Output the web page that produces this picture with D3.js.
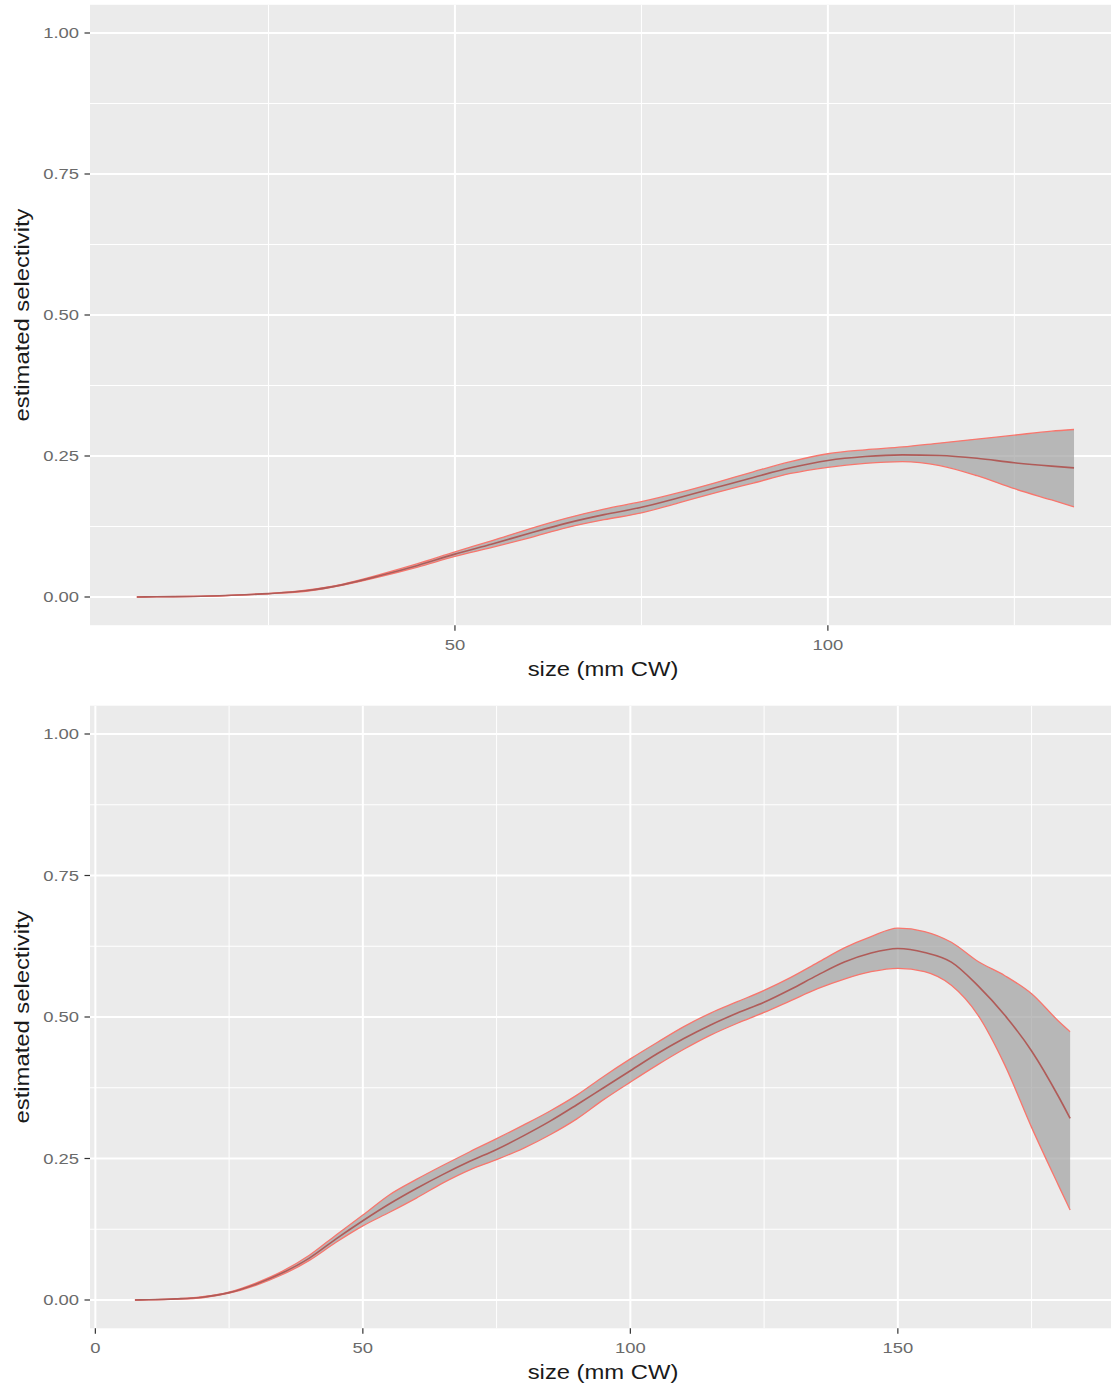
<!DOCTYPE html>
<html>
<head>
<meta charset="utf-8">
<script src="https://cdn.jsdelivr.net/npm/d3@7"></script>
<style>
  html, body { margin: 0; padding: 0; background: #ffffff; }
  svg { display: block; }
  text { font-family: "Liberation Sans", Arial, Helvetica, sans-serif; }
</style>
</head>
<body>
<div id="chart"></div>
<script>
// ---- Panel 1: estimated selectivity by size (mm CW) ----
const topSize  = [7.35, 10, 15, 20, 25, 30, 35, 40, 45, 50, 55, 60, 65, 70, 75, 80, 85, 90, 95, 100, 105, 110, 115, 120, 125, 130, 133];
const topFit   = [0, 0.0005, 0.001, 0.003, 0.006, 0.011, 0.022, 0.038, 0.056, 0.076, 0.094, 0.113, 0.131, 0.146, 0.159, 0.176, 0.194, 0.212, 0.229, 0.242, 0.249, 0.252, 0.251, 0.246, 0.238, 0.232, 0.229];
const topUpper = [0, 0.0005, 0.001, 0.003, 0.006, 0.012, 0.023, 0.040, 0.059, 0.080, 0.100, 0.121, 0.140, 0.156, 0.169, 0.185, 0.203, 0.222, 0.240, 0.254, 0.261, 0.266, 0.273, 0.280, 0.287, 0.294, 0.297];
const topLower = [0, 0.0005, 0.001, 0.003, 0.006, 0.010, 0.021, 0.036, 0.053, 0.072, 0.088, 0.105, 0.123, 0.137, 0.149, 0.167, 0.185, 0.202, 0.219, 0.230, 0.237, 0.240, 0.233, 0.215, 0.192, 0.172, 0.160];

// ---- Panel 2: estimated selectivity by size (mm CW) ----
const botSize  = [7.4, 10, 15, 20, 25, 30, 35, 40, 45, 50, 55, 60, 65, 70, 75, 80, 85, 90, 95, 100, 105, 110, 115, 120, 125, 130, 135, 140, 145, 150, 155, 160, 165, 170, 175, 180, 182.2];
const botFit   = [0, 0.0005, 0.002, 0.005, 0.013, 0.028, 0.048, 0.074, 0.108, 0.140, 0.170, 0.197, 0.222, 0.245, 0.266, 0.290, 0.316, 0.345, 0.375, 0.405, 0.435, 0.462, 0.486, 0.507, 0.526, 0.549, 0.574, 0.597, 0.613, 0.621, 0.614, 0.597, 0.555, 0.503, 0.440, 0.360, 0.321];
const botUpper = [0, 0.0005, 0.002, 0.006, 0.014, 0.030, 0.051, 0.079, 0.115, 0.150, 0.186, 0.213, 0.238, 0.262, 0.285, 0.309, 0.334, 0.362, 0.395, 0.426, 0.455, 0.483, 0.507, 0.527, 0.547, 0.570, 0.596, 0.622, 0.642, 0.657, 0.651, 0.632, 0.598, 0.573, 0.541, 0.493, 0.474];
const botLower = [0, 0.0005, 0.0015, 0.004, 0.012, 0.026, 0.045, 0.070, 0.102, 0.131, 0.155, 0.180, 0.207, 0.230, 0.248, 0.268, 0.292, 0.320, 0.354, 0.385, 0.415, 0.443, 0.468, 0.489, 0.508, 0.529, 0.550, 0.567, 0.580, 0.586, 0.580, 0.556, 0.503, 0.415, 0.305, 0.203, 0.159];

// ---- Axis breaks and labels ----
const yMajorTicks = [0, 0.25, 0.5, 0.75, 1];
const yMinorTicks = [0.125, 0.375, 0.625, 0.875];
const topXMajor = [50, 100];
const topXMinor = [25, 75, 125];
const botXMajor = [0, 50, 100, 150];
const botXMinor = [25, 75, 125, 175];
const xTitle = "size (mm CW)";
const yTitle = "estimated selectivity";

const W = 1111, H = 1389;
const TEXT_STRETCH = 1.19;   // wide lettering along the baseline

const svg = d3.select("#chart").append("svg")
  .attr("width", W).attr("height", H)
  .attr("viewBox", `0 0 ${W} ${H}`);

const panels = [
  { id: "p1", size: topSize, fit: topFit, upper: topUpper, lower: topLower,
    xDomain: [1.07, 139.3], xRange: [90, 1121], yRange: [625.2, 4.8],
    xMajor: topXMajor, xMinor: topXMinor },
  { id: "p2", size: botSize, fit: botFit, upper: botUpper, lower: botLower,
    xDomain: [-1.0, 191.0], xRange: [90, 1117.2], yRange: [1328.3, 705.7],
    xMajor: botXMajor, xMinor: botXMinor }
];

function stretchedText(g, x, y, rotate, str) {
  const t = `translate(${x},${y})` + (rotate ? ` rotate(${rotate})` : "") + ` scale(${TEXT_STRETCH},1)`;
  return g.append("text").attr("transform", t).text(str);
}

panels.forEach(p => {
  const x = d3.scaleLinear().domain(p.xDomain).range(p.xRange);
  const y = d3.scaleLinear().domain([-0.05, 1.05]).range(p.yRange);
  const [x0, x1] = p.xRange;
  const [yb, yt] = p.yRange;

  const g = svg.append("g");

  // panel background
  g.append("rect").attr("x", x0).attr("y", yt)
    .attr("width", x1 - x0).attr("height", yb - yt)
    .attr("fill", "#EBEBEB");

  g.append("clipPath").attr("id", "clip-" + p.id)
    .append("rect").attr("x", x0).attr("y", yt)
    .attr("width", x1 - x0).attr("height", yb - yt);

  const grid = g.append("g").attr("clip-path", `url(#clip-${p.id})`);

  // minor grid
  grid.selectAll(".ymin").data(yMinorTicks).join("line")
    .attr("x1", x0).attr("x2", x1)
    .attr("y1", d => y(d)).attr("y2", d => y(d))
    .attr("stroke", "#ffffff").attr("stroke-width", 1);
  grid.selectAll(".xmin").data(p.xMinor).join("line")
    .attr("x1", d => x(d)).attr("x2", d => x(d))
    .attr("y1", yt).attr("y2", yb)
    .attr("stroke", "#ffffff").attr("stroke-width", 1);
  // major grid
  grid.selectAll(".ymaj").data(yMajorTicks).join("line")
    .attr("x1", x0).attr("x2", x1)
    .attr("y1", d => y(d)).attr("y2", d => y(d))
    .attr("stroke", "#ffffff").attr("stroke-width", 2);
  grid.selectAll(".xmaj").data(p.xMajor).join("line")
    .attr("x1", d => x(d)).attr("x2", d => x(d))
    .attr("y1", yt).attr("y2", yb)
    .attr("stroke", "#ffffff").attr("stroke-width", 2);

  // confidence ribbon and fitted curve
  const rows = p.size.map((s, i) => ({ s, fit: p.fit[i], lo: p.lower[i], hi: p.upper[i] }));
  const curve = d3.curveMonotoneX;

  const area = d3.area().curve(curve)
    .x(d => x(d.s)).y0(d => y(d.lo)).y1(d => y(d.hi));
  const lineOf = key => d3.line().curve(curve).x(d => x(d.s)).y(d => y(d[key]));

  const marks = g.append("g").attr("clip-path", `url(#clip-${p.id})`);
  marks.append("path").datum(rows).attr("d", area)
    .attr("fill", "#9d9d9d").attr("fill-opacity", 0.68).attr("stroke", "none");
  ["hi", "lo"].forEach(k => {
    marks.append("path").datum(rows).attr("d", lineOf(k))
      .attr("fill", "none").attr("stroke", "#F8766D").attr("stroke-width", 1.3);
  });
  marks.append("path").datum(rows).attr("d", lineOf("fit"))
    .attr("fill", "none").attr("stroke", "#B05B58").attr("stroke-width", 1.6);

  // y axis
  const ya = g.append("g");
  ya.selectAll("line").data(yMajorTicks).join("line")
    .attr("x1", x0 - 5.5).attr("x2", x0)
    .attr("y1", d => y(d)).attr("y2", d => y(d))
    .attr("stroke", "#333333").attr("stroke-width", 1.2);
  yMajorTicks.forEach(v => {
    stretchedText(ya, x0 - 11, y(v), 0, d3.format(".2f")(v))
      .attr("text-anchor", "end").attr("dominant-baseline", "central")
      .attr("font-size", 15.5).attr("fill", "#6a6a6a");
  });

  // x axis
  const xa = g.append("g");
  xa.selectAll("line").data(p.xMajor).join("line")
    .attr("x1", d => x(d)).attr("x2", d => x(d))
    .attr("y1", yb).attr("y2", yb + 5.5)
    .attr("stroke", "#333333").attr("stroke-width", 1.2);
  p.xMajor.forEach(v => {
    stretchedText(xa, x(v), yb + 24.5, 0, String(v))
      .attr("text-anchor", "middle")
      .attr("font-size", 15.5).attr("fill", "#6a6a6a");
  });

  // axis titles
  stretchedText(g, 603, yb + 51, 0, xTitle)
    .attr("text-anchor", "middle").attr("font-size", 20).attr("fill", "#1a1a1a");
  stretchedText(g, 29, (yt + yb) / 2, -90, yTitle)
    .attr("text-anchor", "middle").attr("font-size", 20).attr("fill", "#1a1a1a");
});
</script>
</body>
</html>
